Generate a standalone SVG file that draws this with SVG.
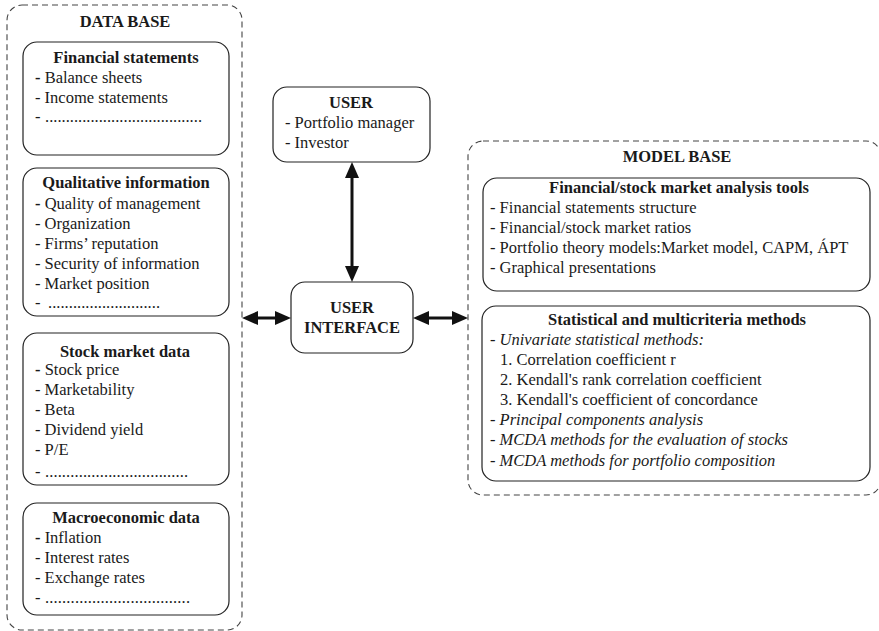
<svg xmlns="http://www.w3.org/2000/svg" width="879" height="631" viewBox="0 0 879 631">
  <style>
    text { font-family: "Liberation Serif", "Times New Roman", serif; font-size: 16.5px; fill: #1a1a1a; }
    .title { font-weight: bold; text-anchor: middle; }
    .it { font-style: italic; }
    .b { font-weight: bold; }
    .container { fill: none; stroke: #444; stroke-width: 1.1; stroke-dasharray: 6 4; }
    .box { fill: #fff; stroke: #222; stroke-width: 1.2; }
    .link { fill: none; stroke: #111; stroke-width: 3; }
  </style>
  <defs>
    <marker id="head" viewBox="0 0 16 14" markerWidth="16" markerHeight="14" refX="2" refY="7" orient="auto-start-reverse" markerUnits="userSpaceOnUse">
      <path d="M0,0 L16,7 L0,14 z" fill="#111"/>
    </marker>
  </defs>

  <rect width="879" height="631" fill="#fff"/>

  <!-- Data base container -->
  <g id="data-base">
    <rect class="container" x="7" y="5" width="235" height="625" rx="15"/>
    <text class="title" x="125" y="27">DATA BASE</text>

    <g id="financial-statements">
      <rect class="box" x="23" y="42" width="206" height="113" rx="14"/>
      <text class="title" x="126" y="63">Financial statements</text>
      <text x="35" y="83"><tspan class="b">-</tspan> Balance sheets</text>
      <text x="35" y="103">- Income statements</text>
      <text x="35" y="122">-</text>
      <text x="45" y="122" textLength="157" lengthAdjust="spacing">......................................</text>
    </g>

    <g id="qualitative-information">
      <rect class="box" x="23" y="168" width="206" height="148" rx="14"/>
      <text class="title" x="126" y="188">Qualitative information</text>
      <text x="35" y="209"><tspan class="b">-</tspan> Quality of management</text>
      <text x="35" y="229">- Organization</text>
      <text x="35" y="249">- Firms’ reputation</text>
      <text x="35" y="269">- Security of information</text>
      <text x="35" y="289">- Market position</text>
      <text x="35" y="308">-</text>
      <text x="48" y="308" textLength="112" lengthAdjust="spacing">...........................</text>
    </g>

    <g id="stock-market-data">
      <rect class="box" x="23" y="333" width="206" height="152" rx="14"/>
      <text class="title" x="125" y="357">Stock market data</text>
      <text x="35" y="375"><tspan class="b">-</tspan> Stock price</text>
      <text x="35" y="395">- Marketability</text>
      <text x="35" y="415">- Beta</text>
      <text x="35" y="435">- Dividend yield</text>
      <text x="35" y="455">- P/E</text>
      <text x="35" y="477">-</text>
      <text x="45" y="477" textLength="143" lengthAdjust="spacing">..................................</text>
    </g>

    <g id="macroeconomic-data">
      <rect class="box" x="23" y="503" width="206" height="112" rx="14"/>
      <text class="title" x="126" y="523">Macroeconomic data</text>
      <text x="35" y="543"><tspan class="b">-</tspan> Inflation</text>
      <text x="35" y="563">- Interest rates</text>
      <text x="35" y="583">- Exchange rates</text>
      <text x="35" y="603">-</text>
      <text x="45" y="603" textLength="145" lengthAdjust="spacing">..................................</text>
    </g>
  </g>

  <!-- User -->
  <g id="user">
    <rect class="box" x="273" y="87" width="157" height="75" rx="14"/>
    <text class="title" x="351" y="108">USER</text>
    <text x="285" y="128">- Portfolio manager</text>
    <text x="285" y="148">- Investor</text>
  </g>

  <!-- User interface -->
  <g id="user-interface">
    <rect class="box" x="291" y="282" width="122" height="71" rx="14"/>
    <text class="title" x="352" y="313">USER</text>
    <text class="title" x="352" y="333">INTERFACE</text>
  </g>

  <!-- Model base container -->
  <g id="model-base">
    <rect class="container" x="468" y="141" width="413" height="354" rx="15"/>
    <text class="title" x="677" y="162">MODEL BASE</text>

    <g id="analysis-tools">
      <rect class="box" x="483" y="178" width="387" height="113" rx="14"/>
      <text class="title" x="679" y="193">Financial/stock market analysis tools</text>
      <text x="490" y="213">- Financial statements structure</text>
      <text x="490" y="233">- Financial/stock market ratios</text>
      <text x="490" y="253">- Portfolio theory models:Market model, CAPM, ÁPT</text>
      <text x="490" y="273">- Graphical presentations</text>
    </g>

    <g id="statistical-methods">
      <rect class="box" x="482" y="306" width="388" height="175" rx="14"/>
      <text class="title" x="677" y="325">Statistical and multicriteria methods</text>
      <text class="it" x="490" y="345">- Univariate statistical methods:</text>
      <text x="500" y="365">1. Correlation coefficient r</text>
      <text x="500" y="385">2. Kendall's rank correlation coefficient</text>
      <text x="500" y="405">3. Kendall's coefficient of concordance</text>
      <text class="it" x="490" y="425">- Principal components analysis</text>
      <text class="it" x="490" y="445">- MCDA methods for the evaluation of stocks</text>
      <text class="it" x="490" y="466">- MCDA methods for portfolio composition</text>
    </g>
  </g>

  <!-- Two-way connectors -->
  <g id="connectors">
    <line class="link" x1="352" y1="176" x2="352" y2="268" marker-start="url(#head)" marker-end="url(#head)"/>
    <line class="link" x1="256" y1="318" x2="277" y2="318" marker-start="url(#head)" marker-end="url(#head)"/>
    <line class="link" x1="427" y1="318" x2="454" y2="318" marker-start="url(#head)" marker-end="url(#head)"/>
  </g>
</svg>
